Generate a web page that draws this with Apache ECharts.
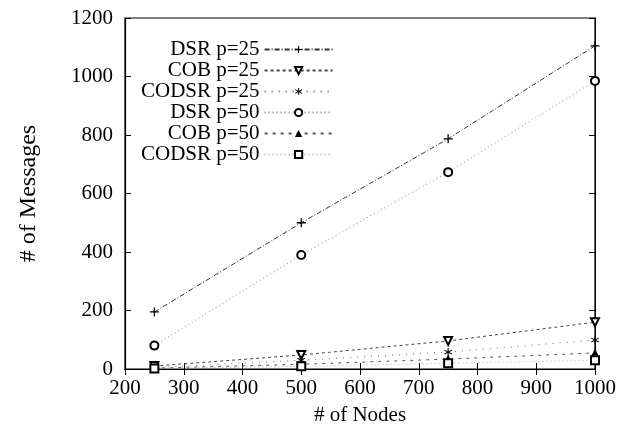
<!DOCTYPE html>
<html><head><meta charset="utf-8">
<script src="https://cdn.jsdelivr.net/npm/echarts@6/dist/echarts.min.js"></script>
<style>html,body{margin:0;padding:0;background:#fff}#c{width:631px;height:437px}</style>
</head><body><div id="c"></div>
<script>
var nodes = [250, 500, 750, 1000];
var seriesNames = ['DSR p=25', 'COB p=25', 'CODSR p=25', 'DSR p=50', 'COB p=50', 'CODSR p=50'];
var dsr25 = [195, 500, 787, 1105];
var cob25 = [10, 48, 96, 160];
var codsr25 = [5, 30, 58, 99];
var dsr50 = [80, 390, 673, 985];
var cob50 = [3, 16, 34, 55];
var codsr50 = [2, 9, 20, 30];
var xTicks = [200, 300, 400, 500, 600, 700, 800, 900, 1000];
var yTicks = [0, 200, 400, 600, 800, 1000, 1200];

var FONT = '"Liberation Serif","DejaVu Serif",serif';
function pairs(v){ return nodes.map(function(x,i){ return [x, v[i]]; }); }
var plus = 'path://M4.3,0H5.7V4.3H10V5.7H5.7V10H4.3V5.7H0V4.3H4.3Z';
var star = 'path://M4.4,0H5.6V3.9L9,2L9.6,3L6.2,5L9.6,7L9,8L5.6,6.1V10H4.4V6.1L1,8L0.4,7L3.8,5L0.4,3L1,2L4.4,3.9Z';
var styles = [
  {d: dsr25, sym: plus, size: 9, line: {color: '#333', type: [5,2,1,2], width: 1}, item: {color: '#000'}},
  {d: cob25, sym: 'emptyTriangle', rot: 180, size: 8, line: {color: '#444', type: [3,3], width: 1}, item: {color: '#000', borderWidth: 1}},
  {d: codsr25, sym: star, size: 8, line: {color: '#666', type: [1,6], width: 1}, item: {color: '#000'}},
  {d: dsr50, sym: 'emptyCircle', size: 8, line: {color: '#888', type: [1,3], width: 1}, item: {color: '#000', borderWidth: 1}},
  {d: cob50, sym: 'triangle', size: 9, line: {color: '#555', type: [3,5], width: 1}, item: {color: '#000'}},
  {d: codsr50, sym: 'emptyRect', size: 8, line: {color: '#aaa', type: [1,3], width: 1}, item: {color: '#000', borderWidth: 1}}
];
var series = styles.map(function(s, i){
  return {
    name: seriesNames[i], type: 'line', data: pairs(s.d),
    symbol: s.sym, symbolSize: s.size, symbolRotate: s.rot || 0, showSymbol: true,
    lineStyle: s.line, itemStyle: s.item, animation: false, z: 3
  };
});

var chart = echarts.init(document.getElementById('c'), null, {renderer: 'canvas'});
var labelStyle = {color: '#000', fontFamily: FONT, fontSize: 21};
chart.setOption({
  animation: false,
  backgroundColor: '#fff',
  grid: {left: 125, right: 36, top: 18, bottom: 68, show: true, borderColor: '#000', borderWidth: 1.2, backgroundColor: 'transparent'},
  legend: {
    orient: 'vertical', left: 136, top: 34, align: 'right', itemWidth: 68, itemHeight: 9, itemGap: 0,
    textStyle: {color: '#000', fontFamily: FONT, fontSize: 21, lineHeight: 21},
    data: seriesNames
  },
  xAxis: [{
    type: 'value', min: xTicks[0], max: xTicks[xTicks.length-1], interval: 100, position: 'bottom',
    axisLine: {show: true, lineStyle: {color: '#000', width: 1.2}},
    axisTick: {show: true, inside: true, length: 6, lineStyle: {color: '#000'}},
    axisLabel: Object.assign({margin: 9, formatter: function(v){ return String(v); }}, labelStyle),
    splitLine: {show: false},
    name: '# of Nodes', nameLocation: 'middle', nameGap: 36,
    nameTextStyle: {color: '#000', fontFamily: FONT, fontSize: 21}
  }, {
    type: 'value', min: 200, max: 1000, interval: 100, position: 'top',
    axisLine: {show: true, lineStyle: {color: '#000'}},
    axisTick: {show: true, inside: true, length: 6, lineStyle: {color: '#000'}},
    axisLabel: {show: false}, splitLine: {show: false}
  }],
  yAxis: [{
    type: 'value', min: yTicks[0], max: yTicks[yTicks.length-1], interval: 200, position: 'left',
    axisLine: {show: true, lineStyle: {color: '#000', width: 1.2}},
    axisTick: {show: true, inside: true, length: 6, lineStyle: {color: '#000'}},
    axisLabel: Object.assign({margin: 12, formatter: function(v){ return String(v); }}, labelStyle),
    splitLine: {show: false},
    name: '# of Messages', nameLocation: 'middle', nameGap: 84, nameRotate: 90,
    nameTextStyle: {color: '#000', fontFamily: FONT, fontSize: 24}
  }, {
    type: 'value', min: 0, max: 1200, interval: 200, position: 'right',
    axisLine: {show: true, lineStyle: {color: '#000'}},
    axisTick: {show: true, inside: true, length: 6, lineStyle: {color: '#000'}},
    axisLabel: {show: false}, splitLine: {show: false}
  }],
  series: series
});
</script></body></html>
